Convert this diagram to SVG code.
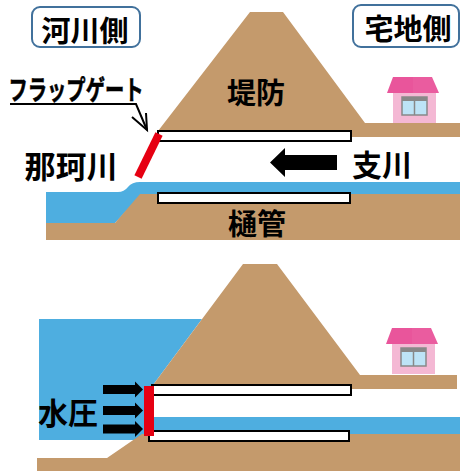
<svg xmlns="http://www.w3.org/2000/svg" width="460" height="471" viewBox="0 0 460 471">
  <style>
    .earth { fill: #c49a6c; }
    .water { fill: #4eaee0; }
    .pipe { fill: #ffffff; stroke: #000000; stroke-width: 2; }
    .gate { fill: #e60012; }
    .label { font-family: "Noto Sans CJK JP", "Noto Sans", sans-serif; font-weight: 700; fill: #000000; dominant-baseline: central; text-anchor: middle; }
    .tag { fill: #ffffff; stroke: #41719c; stroke-width: 2; }
    .roof { fill: #e9559b; }
    .roof-r { fill: #ea5c9f; }
    .wall { fill: #f4b8d4; }
    .win { fill: #bde3f6; stroke: #888888; stroke-width: 1.5; }
    .arrow { fill: #000000; }
  </style>
  <defs>
    <g id="house">
      <polygon class="roof" points="6,0 26,0 26,16 0,16"/>
      <polygon class="roof-r" points="26,0 45,0 52,16 26,16"/>
      <rect class="wall" x="6" y="16" width="43" height="30"/>
      <rect class="win" x="15" y="20" width="25" height="18"/>
      <rect x="15" y="20" width="25" height="4" fill="#888888"/>
      <line x1="27.5" y1="24" x2="27.5" y2="38" stroke="#888888" stroke-width="1.5"/>
    </g>
    <polygon id="push" points="0,-4.5 32,-4.5 32,-8 40,0 32,8 32,4.5 0,4.5"/>
  </defs>

  <!-- upper section: gate open, tributary draining -->
  <g id="upper-section">
    <path class="water" d="M46,192 L118,192 Q124,192 128,187 Q132,182 140,182 L460,182 L460,196 L140,196 L115,223 L46,223 Z"/>
    <polygon class="earth" points="46,223 115,223 140,194 460,194 460,240 46,240"/>
    <polygon class="earth" points="158,137 158,131 250,12 283,12 365,123 460,123 460,137"/>
    <rect class="pipe" x="158" y="131" width="193" height="10"/>
    <rect class="pipe" x="158" y="193" width="192" height="10"/>
    <use href="#house" x="387" y="77"/>
  </g>

  <g id="gate-open">
    <line x1="159" y1="134" x2="138" y2="177" stroke="#e60012" stroke-width="8"/>
  </g>

  <!-- lower section: gate closed against river pressure -->
  <g id="lower-section">
    <polygon class="water" points="39,319 202,319 153,385 153,440 39,440 39,459"/>
    <rect class="water" x="140" y="417" width="320" height="19"/>
    <polygon class="earth" points="37,458 107,458 142,434 460,434 460,471 37,471"/>
    <polygon class="earth" points="153,389 153,385 243,264 277,264 360,375 457,375 457,389"/>
    <rect class="pipe" x="152" y="385" width="199" height="10"/>
    <rect class="pipe" x="149" y="431" width="200" height="10"/>
    <use href="#house" x="386" y="328"/>
  </g>

  <g id="gate-closed">
    <rect class="gate" x="144" y="386" width="10" height="50"/>
  </g>

  <!-- connectors -->
  <g id="connectors">
    <polyline points="10,104 136,104 147,130" fill="none" stroke="#000000" stroke-width="2"/>
    <polyline points="132,117 147,130 146,113" fill="none" stroke="#000000" stroke-width="2"/>
    <polygon class="arrow" points="337,155 285,155 285,148 270,162.5 285,177 285,170 337,170"/>
    <use class="arrow" href="#push" x="103" y="389.5"/>
    <use class="arrow" href="#push" x="103" y="410.5"/>
    <use class="arrow" href="#push" x="103" y="429"/>
  </g>

  <!-- labels -->
  <g id="tag-river">
    <rect class="tag" x="32" y="7" width="108" height="40" rx="8"/>
    <text class="label" x="85" y="29" font-size="29">河川側</text>
  </g>
  <g id="tag-land">
    <rect class="tag" x="353" y="5" width="106" height="42" rx="8"/>
    <text class="label" x="408" y="27" font-size="29">宅地側</text>
  </g>
  <g id="label-gate">
    <text class="label" x="76" y="88" font-size="27" textLength="135" lengthAdjust="spacingAndGlyphs" stroke="#000000" stroke-width="0.6">フラップゲート</text>
  </g>
  <text class="label" id="label-levee" x="256" y="91" font-size="29">堤防</text>
  <text class="label" id="label-naka" x="71" y="164" font-size="31">那珂川</text>
  <text class="label" id="label-branch" x="382" y="163" font-size="30">支川</text>
  <text class="label" id="label-sluice" x="257" y="222" font-size="29">樋管</text>
  <text class="label" id="label-pressure" x="68" y="411" font-size="30">水圧</text>
</svg>
